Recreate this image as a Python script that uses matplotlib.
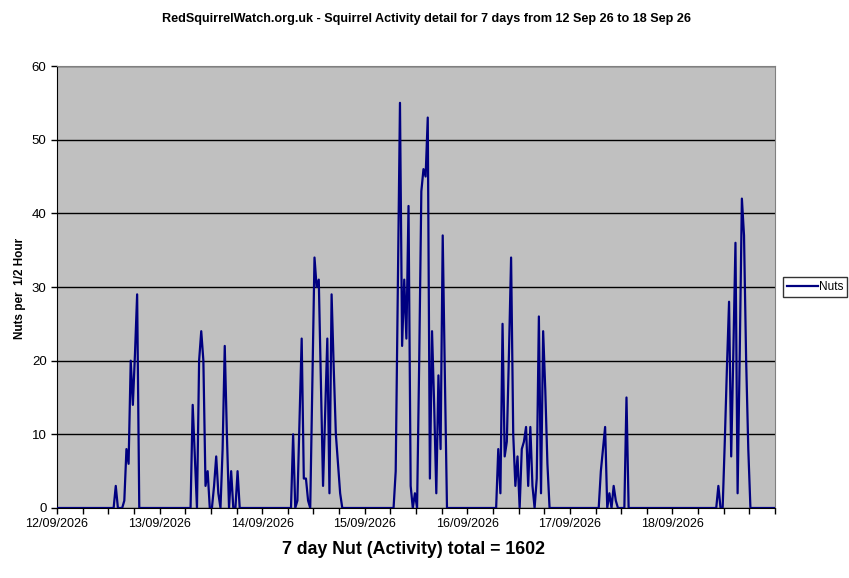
# Red squirrel activity - 7 days of half-hour nut counts
import numpy as np
import matplotlib
matplotlib.use('Agg')
import matplotlib.pyplot as plt
from matplotlib.lines import Line2D

plt.rcParams['font.family'] = ['Liberation Sans', 'DejaVu Sans']

# nuts per 1/2 hour, 48 readings per day
day1 = [0]*27 + [3, 0, 0, 0, 1, 8, 6, 20, 14, 21, 29] + [0]*10
day2 = [0]*15 + [14, 7, 0, 20, 24, 20, 3, 5, 0, 0, 3, 7, 2, 0, 8, 22, 10, 0, 5, 0, 0, 5] + [0]*11
day3 = [0]*14 + [10, 0, 1, 12, 23, 4, 4, 1, 0, 17, 34, 30, 31, 17, 3, 13, 23, 2, 29, 19, 10, 6, 2] + [0]*11
day4 = [0]*14 + [5, 30, 55, 22, 31, 23, 41, 3, 0, 2, 0, 20, 43, 46, 45, 53, 4, 24, 14, 2, 18, 8, 37, 18] + [0]*10
day5 = [0]*14 + [8, 2, 25, 7, 9, 21, 34, 10, 3, 7, 0, 8, 9, 11, 3, 11, 3, 0, 4, 26, 2, 24, 16, 6] + [0]*10
day6 = [0]*14 + [5, 8, 11, 0, 2, 0, 3, 1, 0, 0, 0, 0, 15] + [0]*21
day7 = [0]*21 + [3, 0, 0, 9, 19, 28, 7, 21, 36, 2, 21, 42, 37, 20, 8] + [0]*12

day_labels = ['12/09/2026', '13/09/2026', '14/09/2026', '15/09/2026',
              '16/09/2026', '17/09/2026', '18/09/2026']
title = 'RedSquirrelWatch.org.uk - Squirrel Activity detail for 7 days from 12 Sep 26 to 18 Sep 26'
total_text = '7 day Nut (Activity) total = 1602'

nuts = day1 + day2 + day3 + day4 + day5 + day6 + day7
n = len(nuts)
x = np.arange(n) + 0.5

fig = plt.figure(figsize=(8.49, 5.78), dpi=100)
ax = fig.add_axes([57/849, 70/578, 718/849, 442/578])
ax.set_facecolor('#C0C0C0')

ax.plot(x, nuts, color='#000080', lw=1.6, zorder=3)

ax.set_xlim(0, n)
ax.set_ylim(0, 60)
ax.set_yticks(range(0, 61, 10))
ax.set_xticks(range(0, n + 1, 12), minor=True)
ax.set_xticks(range(0, 7*48, 48))
ax.set_xticklabels(day_labels)
ax.grid(axis='y', color='black', lw=1)
ax.set_axisbelow(True)

ax.tick_params(axis='both', which='both', direction='out', length=4,
               width=1, color='black', labelsize=9)
ax.tick_params(axis='y', labelsize=9.5)

for s in ['top', 'right']:
    ax.spines[s].set_color('#808080')
for s in ['left', 'bottom']:
    ax.spines[s].set_color('black')

fig.text(427/849, 1 - 19/578, title, ha='center', va='center',
         fontsize=9.1, fontweight='bold')
fig.text(414/849, 1 - 549/578, total_text, ha='center', va='center',
         fontsize=12.8, fontweight='bold')
fig.text(20/849, 1 - 288/578, 'Nuts per  1/2 Hour', ha='center', va='center',
         rotation=90, fontsize=8.5, fontweight='bold')

h = [Line2D([], [], color='#000080', lw=1.6)]
leg = fig.legend(h, ['Nuts'], loc='center', bbox_to_anchor=(815/849, 1 - 287/578),
                 fontsize=8.5, frameon=True, fancybox=False, edgecolor='black',
                 handlelength=2.6, handletextpad=0.1, borderpad=0.35,
                 borderaxespad=0)
leg.get_frame().set_linewidth(1)

fig.savefig('out.png', dpi=100, facecolor='white')
